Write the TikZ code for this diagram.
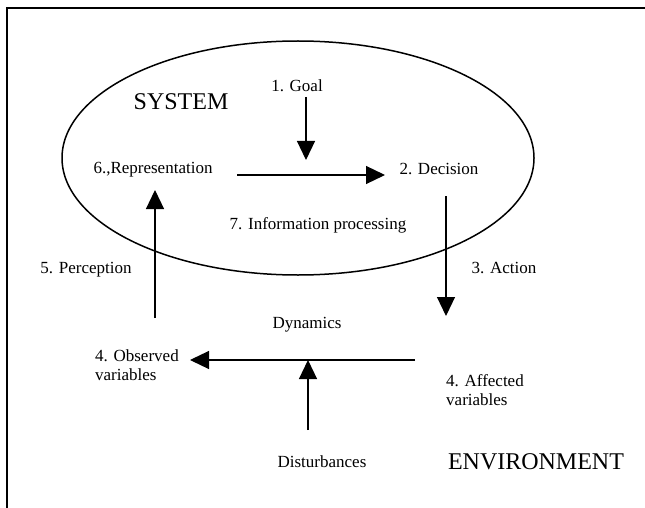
\documentclass[tikz,border=0pt]{standalone}
\usepackage{fontspec}
\setmainfont{Liberation Serif}
\usetikzlibrary{arrows.meta}
\begin{document}
\begin{tikzpicture}[x=1pt,y=-1pt,
  lbl/.style={font=\fontsize{17}{19.5}\selectfont, inner sep=1pt},
  big/.style={font=\fontsize{24}{28}\selectfont, inner sep=1pt},
  two/.style={lbl, align=left, anchor=west},
  flow/.style={line width=1.2pt, -{Triangle[length=19pt,width=18pt]}},
  frame/.style={line width=1.5pt}]
\useasboundingbox (0,0) rectangle (645,508);
% frame
\draw[frame] (645,8) -- (7,8) -- (7,508);
% system ellipse
\draw[line width=1.5pt] (298,158) ellipse [x radius=236, y radius=117];
% labels
\node[big] (sys) at (181,102) {SYSTEM};
\node[big] (env) at (536,462) {ENVIRONMENT};
\node[lbl] (goal) at (297,86) {1. Goal};
\node[lbl] (rep) at (153,170) {6.,Representation};
\node[lbl] (dec) at (439,169) {2. Decision};
\node[lbl] (info) at (318,225) {7. Information processing};
\node[lbl] (act) at (504,268) {3. Action};
\node[lbl] (perc) at (86,270) {5. Perception};
\node[lbl] (dyn) at (307,325) {Dynamics};
\node[two] (obs) at (94,365) {4. Observed\\variables};
\node[two] (aff) at (445,390) {4. Affected\\variables};
\node[lbl] (dist) at (322,462) {Disturbances};
% free ends
\coordinate (goaltip) at (306,160);
\coordinate (goaltop) at (306,97);
\coordinate (repout) at (237,175);
\coordinate (decin) at (385,175);
\coordinate (acttop) at (446,196);
\coordinate (acttip) at (446,316);
\coordinate (percbot) at (155,318);
\coordinate (perctip) at (155,190);
\coordinate (dynstart) at (415,360);
\coordinate (dyntip) at (190,360);
\coordinate (distbot) at (308,430);
\coordinate (disttip) at (308,360);
% connectors
\draw[flow] (goaltop) -- (goaltip);
\draw[flow] (repout) -- (decin);
\draw[flow] (acttop) -- (acttip);
\draw[flow] (percbot) -- (perctip);
\draw[flow] (dynstart) -- (dyntip);
\draw[flow] (distbot) -- (disttip);
\end{tikzpicture}
\end{document}
